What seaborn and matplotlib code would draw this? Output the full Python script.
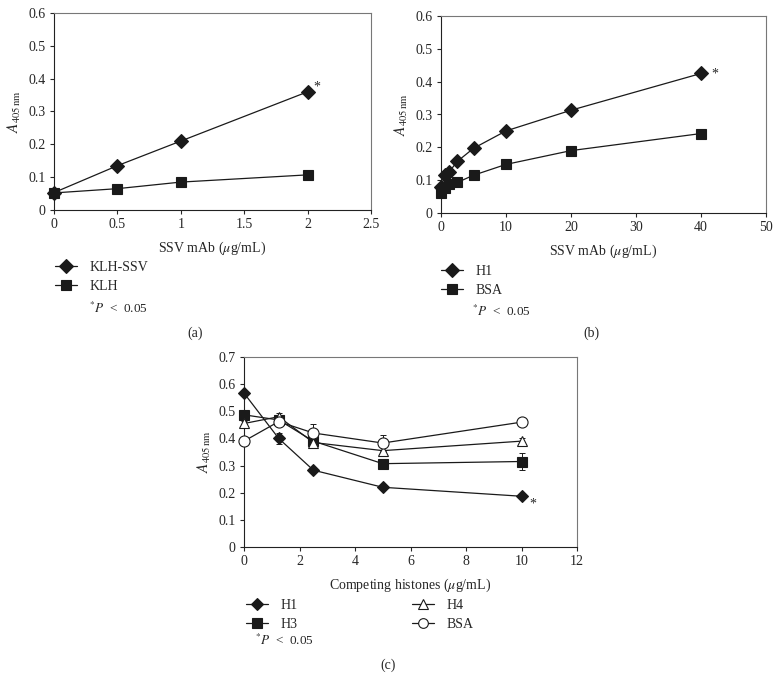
import numpy as np
import pandas as pd
import seaborn as sns
import matplotlib.pyplot as plt
from matplotlib.lines import Line2D

sns.set_theme(style="ticks")
plt.rcParams['font.family'] = ['Liberation Serif', 'DejaVu Serif']
plt.rcParams['mathtext.fontset'] = 'stix'
plt.rcParams['font.size'] = 10

# --- Painel (a) ---
a_x = [0, 0.5, 1, 2]
a_klh_ssv = [0.053, 0.135, 0.21, 0.36]
a_klh = [0.052, 0.065, 0.085, 0.107]

# --- Painel (b) ---
b_x = [0, 0.625, 1.25, 2.5, 5, 10, 20, 40]
b_h1 = [0.08, 0.115, 0.125, 0.157, 0.197, 0.25, 0.313, 0.425]
b_h1_err = [0.005, 0.005, 0.005, 0.005, 0.006, 0.008, 0.006, 0.01]
b_bsa = [0.06, 0.075, 0.088, 0.093, 0.115, 0.148, 0.19, 0.242]
b_bsa_err = [0.004, 0.004, 0.004, 0.004, 0.004, 0.005, 0.005, 0.005]

# --- Painel (c) ---
c_x = [0, 1.25, 2.5, 5, 10]
c_h1 = [0.567, 0.40, 0.283, 0.22, 0.187]
c_h1_err = [0.005, 0.02, 0.008, 0.008, 0.006]
c_h3 = [0.487, 0.468, 0.39, 0.307, 0.315]
c_h3_err = [0.008, 0.01, 0.02, 0.01, 0.03]
c_h4 = [0.455, 0.48, 0.385, 0.355, 0.39]
c_h4_err = [0.01, 0.015, 0.01, 0.015, 0.01]
c_bsa = [0.39, 0.462, 0.42, 0.383, 0.46]
c_bsa_err = [0.008, 0.01, 0.035, 0.03, 0.01]

W, H = 782, 680
fig = plt.figure(figsize=(W / 100, H / 100), dpi=100)


def px_axes(x0, y0, x1, y1):
    return fig.add_axes([x0 / W, 1 - y1 / H, (x1 - x0) / W, (y1 - y0) / H])


def estilo(ax, xlim, xticks, ylim, yticks, xlabel):
    ax.set_xlim(*xlim)
    ax.set_ylim(*ylim)
    ax.set_xticks(xticks)
    ax.set_yticks(yticks)
    ax.set_xticklabels([f"{t:g}" for t in xticks])
    ax.set_yticklabels([f"{t:g}" for t in yticks])
    for s in ax.spines.values():
        s.set_linewidth(0.8)
        s.set_color('#222222')
    ax.spines['top'].set_color('#777777')
    ax.spines['right'].set_color('#777777')
    ax.tick_params(direction='out', length=3, width=0.8, labelsize=10, pad=3)
    ax.set_xlabel(xlabel, fontsize=10, labelpad=6)
    ax.set_ylabel(r"$A_{405\,\mathrm{nm}}$", fontsize=11, labelpad=4)


def serie(ax, x, y, marker, ms, fill='k', err=None):
    df = pd.DataFrame({'x': x, 'y': y})
    sns.lineplot(data=df, x='x', y='y', ax=ax, color='k', lw=0.9,
                 marker=marker, markersize=ms, markerfacecolor=fill,
                 markeredgecolor='k', markeredgewidth=0.8, clip_on=False, zorder=3)
    if err is not None:
        ax.errorbar(x, y, yerr=err, fmt='none', ecolor='k', elinewidth=0.7,
                    capsize=2, capthick=0.7, zorder=2, clip_on=False)


# (a)
ax_a = px_axes(54, 13, 371, 210)
serie(ax_a, a_x, a_klh_ssv, 'D', 7)
serie(ax_a, a_x, a_klh, 's', 7.5)
estilo(ax_a, (0, 2.5), [0, 0.5, 1, 1.5, 2, 2.5], (0, 0.6),
       [0, 0.1, 0.2, 0.3, 0.4, 0.5, 0.6], r"SSV mAb ($\mu$g/mL)")
ax_a.text(2.07, 0.375, '*', fontsize=10, ha='center', va='center')

# (b)
ax_b = px_axes(441, 16, 766, 213)
serie(ax_b, b_x, b_h1, 'D', 7, err=b_h1_err)
serie(ax_b, b_x, b_bsa, 's', 7.5, err=b_bsa_err)
estilo(ax_b, (0, 50), [0, 10, 20, 30, 40, 50], (0, 0.6),
       [0, 0.1, 0.2, 0.3, 0.4, 0.5, 0.6], r"SSV mAb ($\mu$g/mL)")
ax_b.text(42.2, 0.422, '*', fontsize=10, ha='center', va='center')

# (c)
ax_c = px_axes(244, 357, 577, 547)
serie(ax_c, c_x, c_h1, 'D', 6, err=c_h1_err)
serie(ax_c, c_x, c_h3, 's', 7.5, err=c_h3_err)
serie(ax_c, c_x, c_h4, '^', 7.5, fill='white', err=c_h4_err)
serie(ax_c, c_x, c_bsa, 'o', 8, fill='white', err=c_bsa_err)
estilo(ax_c, (0, 12), [0, 2, 4, 6, 8, 10, 12], (0, 0.7),
       [0, 0.1, 0.2, 0.3, 0.4, 0.5, 0.6, 0.7], r"Competing histones ($\mu$g/mL)")
ax_c.text(10.4, 0.16, '*', fontsize=10, ha='center', va='center')


def handle(marker, fill='k', ms=7):
    return Line2D([0], [0], color='k', lw=0.9, marker=marker, markersize=ms,
                  markerfacecolor=fill, markeredgecolor='k', markeredgewidth=0.8)


def legenda(handles, labels, x, y, ncol=1, colsp=2.0):
    leg = fig.legend(handles, labels, loc='upper left', bbox_to_anchor=(x / W, 1 - y / H),
                     frameon=False, fontsize=10, handlelength=1.6, handletextpad=0.9,
                     labelspacing=0.45, ncol=ncol, columnspacing=colsp, borderpad=0,
                     borderaxespad=0)
    return leg


legenda([handle('D'), handle('s')], ['KLH-SSV', 'KLH'], 55, 261)
fig.text(89 / W, 1 - 308 / H, r"$^{*}P$  <  0.05", fontsize=9.5, va='center')
fig.text(195 / W, 1 - 333 / H, "(a)", fontsize=10, ha='center', va='center')

legenda([handle('D'), handle('s')], ['H1', 'BSA'], 441, 265)
fig.text(472 / W, 1 - 311 / H, r"$^{*}P$  <  0.05", fontsize=9.5, va='center')
fig.text(591 / W, 1 - 333 / H, "(b)", fontsize=10, ha='center', va='center')

legenda([handle('D', ms=6), handle('s'), handle('^', 'white'), handle('o', 'white')],
        ['H1', 'H3', 'H4', 'BSA'], 246, 599, ncol=2, colsp=8.2)
fig.text(255 / W, 1 - 640 / H, r"$^{*}P$  <  0.05", fontsize=9.5, va='center')
fig.text(388 / W, 1 - 665 / H, "(c)", fontsize=10, ha='center', va='center')

fig.savefig('out.png', dpi=100)
